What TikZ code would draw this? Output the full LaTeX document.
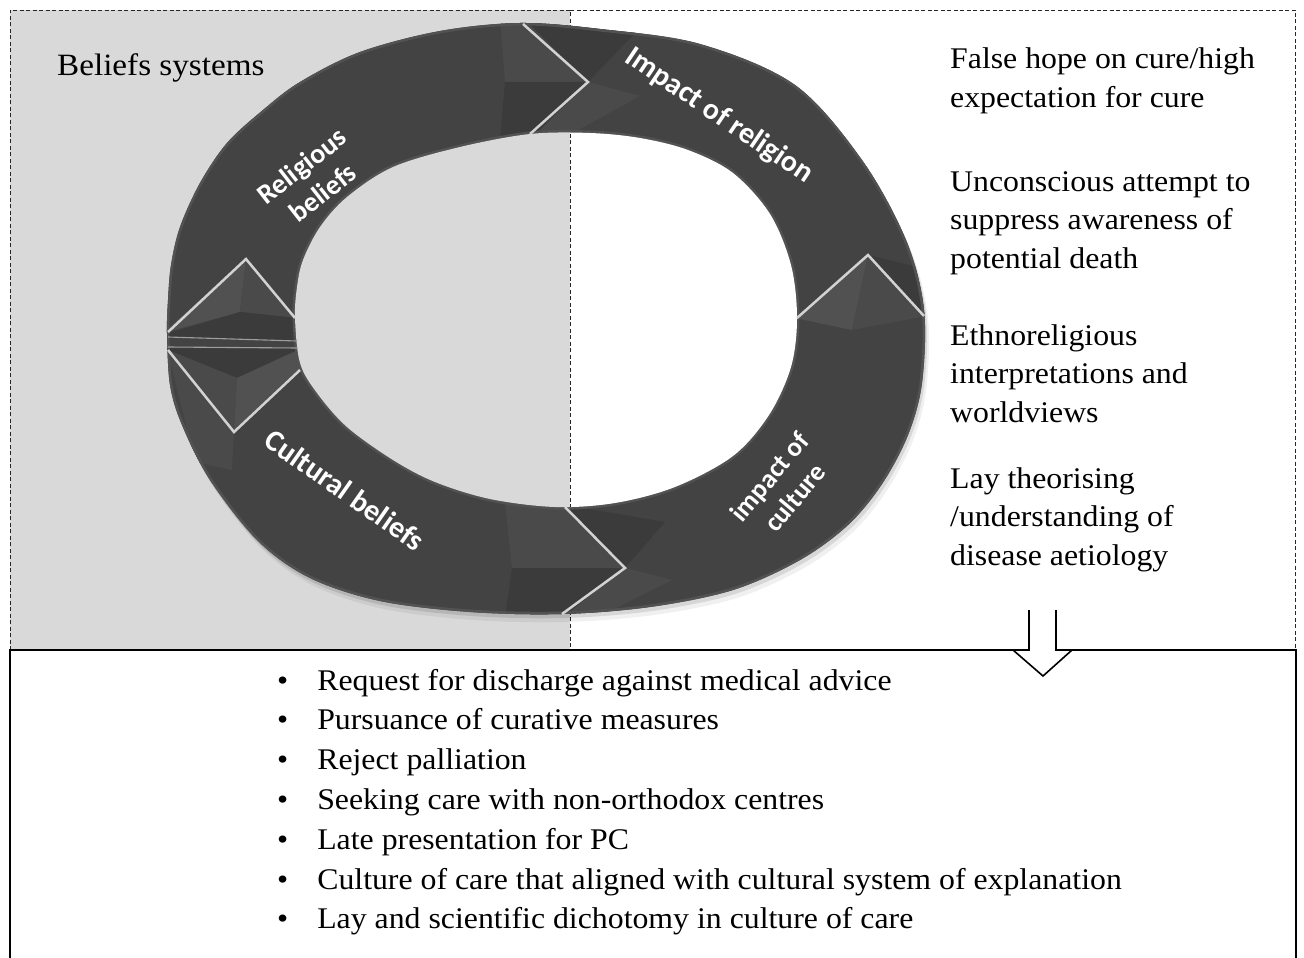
\documentclass[tikz,border=0pt]{standalone}
\usepackage{fontspec}
\setmainfont{Liberation Serif}[FakeStretch=1.06]
\newfontfamily\labfont{Carlito}
\newfontfamily\titlefont{Liberation Serif}[FakeStretch=1.07]
\usetikzlibrary{calc}

\definecolor{panelgray}{HTML}{D9D9D9}
\definecolor{ringbase}{HTML}{434343}
\definecolor{seamcol}{HTML}{D2D2D2}
\definecolor{facetlt}{HTML}{4A4A4A}
\definecolor{facetltt}{HTML}{515151}
\definecolor{facetdk}{HTML}{3B3B3B}
\definecolor{rimcol}{HTML}{525252}

\newcommand\ringouter{plot[smooth cycle,tension=0.55] coordinates {(167,333) (168,300) (171,265) (180,227) (200,183) (227,143) (263,110) (300,82) (360,52) (440,31) (520,23) (600,29) (700,44) (795,85) (862,160) (906,240) (924,310) (922,383) (908,435) (882,484) (848,525) (800,560) (733,590) (650,607) (562,614) (470,612) (380,601) (310,578) (258,541) (210,480) (182,425) (170,385)}}
\newcommand\ringinner{plot[smooth cycle,tension=0.55] coordinates {(295,318) (297,287) (303,260) (320,227) (347,197) (393,167) (460,147) (530,134) (590,133) (640,138) (688,150) (733,173) (770,214) (791,265) (797,318) (791,367) (769,415) (733,456) (675,487) (615,503) (555,507) (490,499) (435,482) (393,460) (347,427) (317,393) (300,363)}}

\tikzset{
  panelline/.style={draw=black!85, line width=0.9pt, dash pattern=on 4pt off 2.5pt},
  seamline/.style={draw=seamcol, line width=2.5pt, line join=miter},
  thinseam/.style={draw=seamcol!75!black, line width=1.1pt},
  ringlabel/.style={text=white, font=\labfont\bfseries\fontsize{30}{34}\selectfont, align=center, inner sep=0pt},
  sidetext/.style={anchor=base west, inner sep=0pt, font=\fontsize{30}{38.7}\selectfont},
  listtext/.style={anchor=base west, inner sep=0pt, font=\fontsize{30}{39.8}\selectfont},
  blockarrow/.style={draw=black, line width=1.6pt, fill=white, line join=miter},
  mainbox/.style={draw=black, line width=2pt},
}

\begin{document}
\begin{tikzpicture}[x=1pt,y=-1pt]
\useasboundingbox (0,0) rectangle (1304,958);
\clip (0,0) rectangle (1304,958);
\fill[white] (0,0) rectangle (1304,958);

% panels
\fill[panelgray] (10,10) rectangle (570,650);
\draw[panelline] (10,650) -- (10,10) -- (570,10) -- (570,650);
\draw[panelline] (570,10) -- (1295,10) -- (1295,650);

% ring shadow
\fill[black, opacity=0.10, shift={(2,4)}] \ringouter;
\fill[black, opacity=0.06, shift={(4,8)}] \ringouter;

% ring body
\begin{scope}
  \clip \ringouter;
  \fill[ringbase] (150,0) rectangle (950,640);
  % facets at top joint (A)
  \fill[facetlt] (500,18) -- (523,18) -- (588,82) -- (505,82) -- cycle;
  \fill[facetdk] (505,82) -- (588,82) -- (530,140) -- (500,140) -- cycle;
  \fill[facetdk] (523,18) -- (640,28) -- (588,82) -- cycle;
  \fill[facetlt] (588,82) -- (640,96) -- (560,140) -- (530,140) -- cycle;
  % facets at bottom joint (C)
  \fill[facetlt] (505,503) -- (565,505) -- (625,568) -- (512,568) -- cycle;
  \fill[facetdk] (512,568) -- (625,568) -- (562,618) -- (505,618) -- cycle;
  \fill[facetdk] (565,505) -- (665,522) -- (625,568) -- cycle;
  \fill[facetlt] (625,568) -- (672,580) -- (600,616) -- (562,618) -- cycle;
  % facets at right joint (B)
  \fill[facetltt] (795,318) -- (868,255) -- (852,330) -- cycle;
  \fill[facetlt] (868,255) -- (926,316) -- (852,330) -- cycle;
  \fill[facetdk] (868,255) -- (926,316) -- (922,268) -- cycle;
  % facets at left joints (D, E)
  \fill[facetltt] (163,333) -- (246,259) -- (240,312) -- cycle;
  \fill[facetlt] (246,259) -- (297,318) -- (240,312) -- cycle;
  \fill[facetdk] (163,335) -- (240,312) -- (297,318) -- (297,341) -- (166,337) -- cycle;
  \fill[facetdk] (163,348) -- (300,349) -- (237,378) -- cycle;
  \fill[facetlt] (163,348) -- (237,378) -- (234,432) -- cycle;
  \fill[facetltt] (300,349) -- (302,370) -- (234,432) -- (237,378) -- cycle;
  \fill[facetlt] (168,352) -- (234,432) -- (232,470) -- (195,462) -- cycle;
  % rims
  \draw[rimcol, line width=5pt] \ringouter;
  \draw[rimcol, line width=5pt] \ringinner;
\end{scope}

% hole
\begin{scope}
  \clip \ringinner;
  \fill[panelgray] (0,0) rectangle (570,958);
  \fill[white] (570,0) rectangle (1304,958);
  \draw[panelline] (570,10) -- (570,650);
\end{scope}

% seams between the arrows
\coordinate (sA1) at (523,24);  \coordinate (sA2) at (588,82);  \coordinate (sA3) at (530,134);
\coordinate (sB1) at (797,318); \coordinate (sB2) at (868,255); \coordinate (sB3) at (924,316);
\coordinate (sC1) at (565,507); \coordinate (sC2) at (625,568); \coordinate (sC3) at (562,614);
\coordinate (sD1) at (168,332); \coordinate (sD2) at (246,259); \coordinate (sD3) at (295,318);
\coordinate (sE1) at (168,350); \coordinate (sE2) at (234,432); \coordinate (sE3) at (300,370);
\draw[seamline] (sA1) -- (sA2) -- (sA3);
\draw[seamline] (sB1) -- (sB2) -- (sB3);
\draw[seamline] (sC1) -- (sC2) -- (sC3);
\draw[seamline] (sD1) -- (sD2) -- (sD3);
\draw[seamline] (sE1) -- (sE2) -- (sE3);
\draw[thinseam] (168,337) -- (297,341);
\draw[thinseam] (168,347) -- (298,348);

% ring labels
\node[ringlabel, font=\labfont\bfseries\fontsize{28}{34}\selectfont, rotate=38] (relb) at (312,179) {Religious\\beliefs};
\node[ringlabel, rotate=-34] (impr) at (719,116) {Impact of religion};
\node[ringlabel, rotate=-35] (culb) at (345,490) {Cultural beliefs};
\node[ringlabel, font=\labfont\bfseries\fontsize{27}{33}\selectfont, rotate=50] (impc) at (782,487) {impact of\\culture};

% title
\node[anchor=base west, inner sep=0pt, font=\titlefont\fontsize{31}{36}\selectfont] (bsys) at (57,75) {Beliefs systems};

% right texts
\node[sidetext] (t1) at (950,69) {\begin{tabular}[t]{@{}l@{}}False hope on cure/high\\expectation for cure\end{tabular}};
\node[sidetext] (t2) at (950,191) {\begin{tabular}[t]{@{}l@{}}Unconscious attempt to\\suppress awareness of\\potential death\end{tabular}};
\node[sidetext] (t3) at (950,345) {\begin{tabular}[t]{@{}l@{}}Ethnoreligious\\interpretations and\\worldviews\end{tabular}};
\node[sidetext] (t4) at (950,488) {\begin{tabular}[t]{@{}l@{}}Lay theorising\\/understanding of\\disease aetiology\end{tabular}};

% bottom box
\draw[mainbox] (10,965) -- (10,650) -- (1296,650) -- (1296,965);

% block arrow
\coordinate (aL) at (1029,610);
\coordinate (aR) at (1056,610);
\draw[blockarrow] (aL) -- (1029,650) -- (1013,650) -- (1043,676) -- (1072,650) -- (1056,650) -- (aR);

% outcomes
\node[listtext] (outc) at (277,690) {\begin{tabular}[t]{@{}l@{\hspace{29pt}}l@{}}
\textbullet & Request for discharge against medical advice\\
\textbullet & Pursuance of curative measures\\
\textbullet & Reject palliation\\
\textbullet & Seeking care with non-orthodox centres\\
\textbullet & Late presentation for PC\\
\textbullet & Culture of care that aligned with cultural system of explanation\\
\textbullet & Lay and scientific dichotomy in culture of care
\end{tabular}};
\end{tikzpicture}
\end{document}
